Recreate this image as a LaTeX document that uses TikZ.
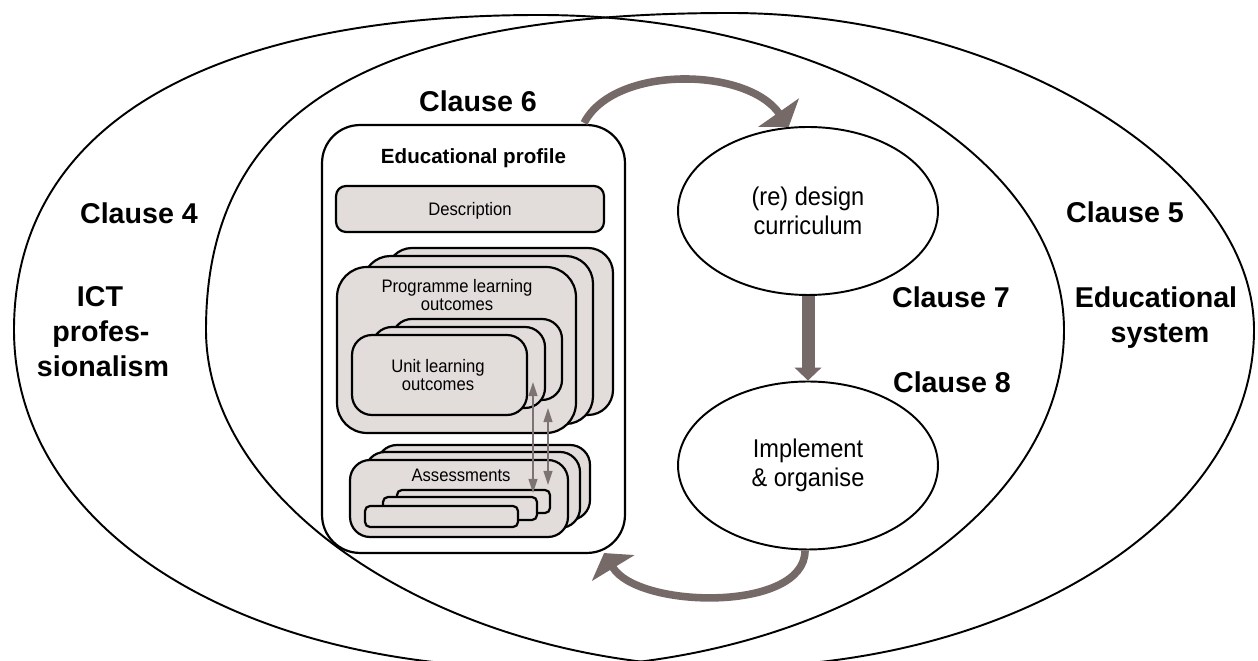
\documentclass[tikz,border=0pt]{standalone}
\usepackage{fontspec}
\setmainfont{Liberation Sans}
\newfontfamily\narrowfont{Liberation Sans}[FakeStretch=0.92]
\usetikzlibrary{shapes.geometric,arrows.meta,calc}
\definecolor{boxfill}{RGB}{226,221,219}
\definecolor{arrowgray}{RGB}{117,106,104}
\definecolor{thingray}{RGB}{125,115,114}
\begin{document}
\begin{tikzpicture}[x=0.02cm,y=-0.02cm,
  clause/.style={font=\fontsize{16.3}{19}\selectfont\bfseries, anchor=base, inner sep=0pt},
  boxtext/.style={font=\narrowfont\fontsize{10.3}{12}\selectfont, anchor=base, inner sep=0pt},
  layer/.style={draw=black, fill=boxfill, line width=1.25pt},
  outline/.style={line width=1.1pt},
  ell/.style={draw, ellipse, line width=1.1pt, fill=white, minimum width=5.2cm, minimum height=3.36cm, inner sep=0pt, align=center, font=\narrowfont\fontsize{14.6}{16.2}\selectfont},
  bigarrow/.style={draw=arrowgray, line width=7.4pt, -{Triangle[length=7.4pt,width=15pt]}},
  curvarrow/.style={draw=arrowgray, line width=4.3pt, -{Triangle[length=10pt,width=28pt]}},
  dblarrow/.style={draw=thingray, line width=1.1pt, {Triangle[length=8pt,width=5pt]}-{Triangle[length=8pt,width=5pt]}}
]
\fill[white] (0,0) rectangle (1258,661);
\useasboundingbox (0,0) rectangle (1258,661);
\begin{scope}
\clip (0,0) rectangle (1258,661);
% left region (Clause 4)
\draw[outline] (539,15) .. controls (828,15) and (1064,157) .. (1064,330)
  .. controls (1064,516) and (828,668) .. (539,668)
  .. controls (234.5,668) and (14,526) .. (14,330)
  .. controls (14,128.4) and (203,15) .. cycle;
% right region (Clause 5)
\draw[outline] (730,13) .. controls (1002.5,13) and (1254,165.2) .. (1254,330)
  .. controls (1254,515.4) and (1018.2,667) .. (730,667)
  .. controls (452.3,667) and (206,508.6) .. (206,330)
  .. controls (206,111.3) and (368.4,13) .. cycle;
\end{scope}

\node[clause] (c4) at (139,224) {Clause 4};
\node[clause] (ict1) at (100,307) {ICT};
\node[clause] (ict2) at (101,342) {profes-};
\node[clause] (ict3) at (103,377) {sionalism};
\node[clause] (c6) at (478,112) {Clause 6};
\node[clause] (c5) at (1125,223) {Clause 5};
\node[clause] (c7) at (951,308) {Clause 7};
\node[clause] (es1) at (1156,308) {Educational};
\node[clause] (es2) at (1160,343) {system};
\node[clause] (c8) at (952,393) {Clause 8};

\node[draw, line width=1.25pt, fill=white, rounded corners=0.76cm, minimum width=6.06cm, minimum height=8.56cm, inner sep=0pt] (prof) at (473.5,339) {};
\node[font=\fontsize{11.7}{14}\selectfont\bfseries, anchor=base, inner sep=0pt] (proft) at (473.5,164) {Educational profile};

\node[layer, rounded corners=0.2cm, minimum width=5.36cm, minimum height=0.92cm, inner sep=0pt] (desc) at (470,209) {};
\node[boxtext] (desct) at (470,216) {Description};

\draw[layer, rounded corners=0.5cm] (387,248) rectangle (613,415);
\draw[layer, rounded corners=0.55cm] (363,256) rectangle (593,424);
\node[layer, rounded corners=0.6cm, minimum width=4.78cm, minimum height=3.32cm, inner sep=0pt] (plo) at (456.5,350) {};
\node[boxtext] (plot1) at (457,293) {Programme learning};
\node[boxtext] (plot2) at (457,311) {outcomes};

\draw[layer, rounded corners=0.4cm] (392,319) rectangle (562,400);
\draw[layer, rounded corners=0.4cm] (372,327) rectangle (545,408);
\node[layer, rounded corners=0.4cm, minimum width=3.5cm, minimum height=1.6cm, inner sep=0pt] (ulo) at (439.5,375) {};
\node[boxtext] (ulot1) at (438,373) {Unit learning};
\node[boxtext] (ulot2) at (438,391) {outcomes};

\draw[layer, rounded corners=0.4cm] (377,445) rectangle (590,520);
\draw[layer, rounded corners=0.4cm] (365,452) rectangle (580,528);
\node[layer, rounded corners=0.4cm, minimum width=4.36cm, minimum height=1.54cm, inner sep=0pt] (ass) at (459,498.5) {};
\node[boxtext] (asst) at (461,482) {Assessments};
\draw[layer, rounded corners=0.1cm] (397,490) rectangle (550,513);
\draw[layer, rounded corners=0.1cm] (383,497) rectangle (537,520);
\draw[layer, rounded corners=0.1cm] (365,506) rectangle (518,527);

\coordinate (d1a) at (533,382);
\coordinate (d1b) at (533,493);
\coordinate (d2a) at (548,408);
\coordinate (d2b) at (548,485);
\draw[dblarrow] (d1a) -- (d1b);
\draw[dblarrow] (d2a) -- (d2b);

\node[ell] (e1) at (808,211) {(re) design\\curriculum};
\node[ell] (e2) at (808,465.5) {Implement\\\& organise};
\draw[bigarrow] (e1) -- (e2);

\draw[curvarrow] ([xshift=-0.84cm,yshift=0.02cm]prof.north east) .. controls +(30,-58) and +(-42,-60) .. (e1.103);
\draw[curvarrow] (e2.268) .. controls +(0,62) and +(34,56) .. ([xshift=-0.44cm,yshift=0.02cm]prof.south east);
\end{tikzpicture}
\end{document}
